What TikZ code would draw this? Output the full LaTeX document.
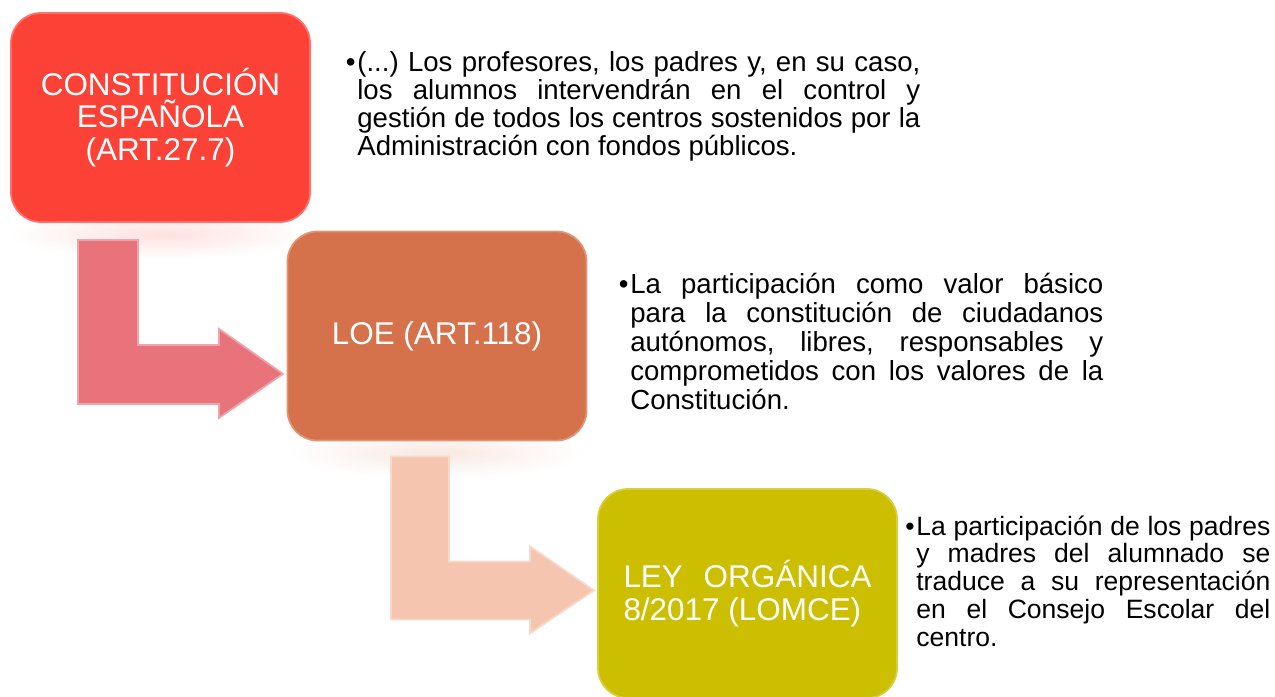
\documentclass[tikz,border=0pt]{standalone}
\usepackage{fontspec}
\setmainfont{Liberation Sans}
\usetikzlibrary{calc}
\definecolor{rojoce}{RGB}{252,65,55}
\definecolor{naranjaloe}{RGB}{213,113,75}
\definecolor{amarillolomce}{RGB}{204,190,0}
\definecolor{rosaflecha}{RGB}{232,115,123}
\definecolor{melocotonflecha}{RGB}{245,197,175}
\tolerance=10000
\hbadness=10000
\hyphenpenalty=10000
\exhyphenpenalty=10000
\frenchspacing
\tikzset{
  caja/.style={rounded corners=6mm,minimum width=59.8mm,minimum height=41.8mm,
    inner sep=0pt,text=white,align=center,line width=1pt,
    font=\fontsize{17.9}{18.7}\selectfont},
  texto/.style={anchor=base west,inner sep=0pt,align=justify},
  flecha/.style={line width=1pt,line join=miter}
}
\begin{document}
\begin{tikzpicture}[x=0.2mm,y=-0.2mm]
\useasboundingbox (0,0) rectangle (1275,697);
\shade[inner color=rojoce!16,outer color=white] (160,234) ellipse (30mm and 5mm);
\shade[inner color=naranjaloe!16,outer color=white] (437,453) ellipse (30mm and 5mm);

\node[caja,fill=rojoce,draw=rojoce!75!white] (ce) at (160.5,117.5) {CONSTITUCIÓN\\ESPAÑOLA\\(ART.27.7)};
\node[caja,fill=naranjaloe,draw=naranjaloe!75!white] (loe) at (437,336) {LOE (ART.118)};
\node[caja,fill=amarillolomce,draw=amarillolomce!75!white,align=justify,text width=49.6mm] (lomce) at (747.5,593.5) {LEY ORGÁNICA\linebreak 8/2017 (LOMCE)};

\draw[flecha,fill=rosaflecha,draw=rosaflecha!65!white] ($(ce.south)+(-82.5,17)$) -- ++(60,0) -- ++(0,105) -- ++(81,0) -- ++(0,-16) -- ++(64,45) -- ++(-64,44) -- ++(0,-14) -- ++(-141,0) -- cycle;
\draw[flecha,fill=melocotonflecha,draw=melocotonflecha!65!white] ($(loe.south)+(-46,15)$) -- ++(58,0) -- ++(0,105) -- ++(81,0) -- ++(0,-15) -- ++(64,44) -- ++(-64,43) -- ++(0,-14) -- ++(-139,0) -- cycle;

\node[texto,text width=112.6mm,font=\fontsize{15.7}{15.9}\selectfont] (t1) at (357,72) {\llap{•\hspace{1pt}}(...) Los profesores, los padres y, en su caso,\linebreak los alumnos intervendrán en el control y\linebreak gestión de todos los centros sostenidos por la\linebreak Administración con fondos públicos.};
\node[texto,text width=94.6mm,font=\fontsize{15.7}{16.6}\selectfont] (t2) at (630,293) {\llap{•\hspace{1pt}}La participación como valor básico\linebreak para la constitución de ciudadanos\linebreak autónomos, libres, responsables y\linebreak comprometidos con los valores de la\linebreak Constitución.};
\node[texto,text width=70.8mm,font=\fontsize{15.1}{15.9}\selectfont] (t3) at (916,535) {\llap{•\hspace{1pt}}La participación de los padres\linebreak y madres del alumnado se\linebreak traduce a su representación\linebreak en el Consejo Escolar del\linebreak centro.};
\end{tikzpicture}
\end{document}
